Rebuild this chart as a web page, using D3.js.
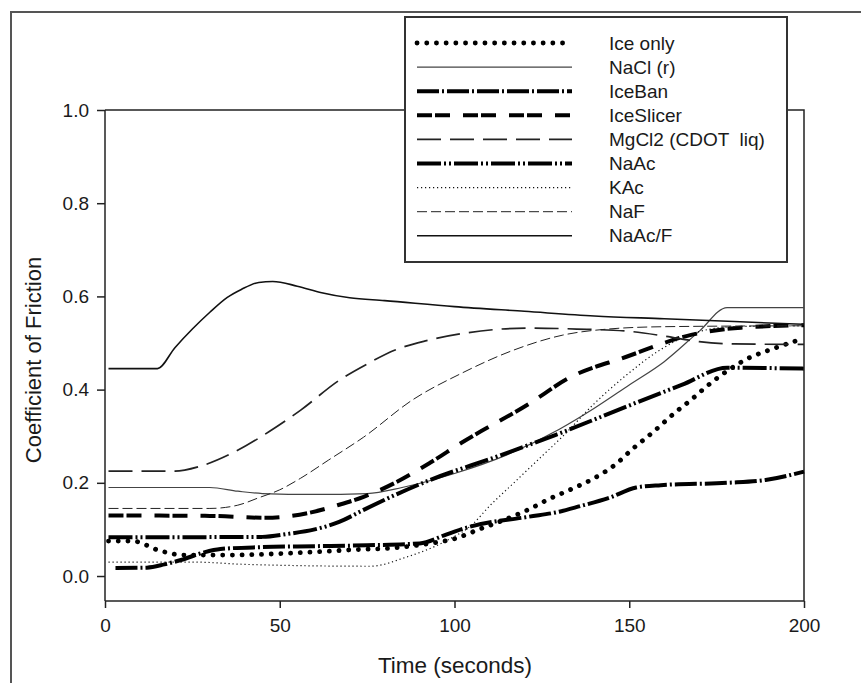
<!DOCTYPE html>
<html><head><meta charset="utf-8">
<script src="https://cdn.jsdelivr.net/npm/d3@7"></script>
<style>body{margin:0;background:#fff;} text{font-family:"Liberation Sans",Arial,sans-serif;fill:#1a1a1a;white-space:pre;}</style>
</head><body>
<svg id="chart" width="861" height="683"></svg>
<script>
// ---- data: [time (s), coefficient of friction] ----
const seriesNames = ["Ice only","NaCl (r)","IceBan","IceSlicer","MgCl2 (CDOT  liq)","NaAc","KAc","NaF","NaAc/F"];
const iceOnly = [[1,0.075],[8,0.075],[12,0.066],[15,0.056],[18,0.05],[22,0.045],[35,0.045],[50,0.048],[70,0.056],[85,0.062],[93,0.07],[100,0.08],[107,0.1],[114,0.12],[121,0.142],[127,0.165],[133,0.185],[140,0.21],[146,0.239],[151,0.273],[157,0.31],[163,0.35],[168,0.38],[172,0.406],[178,0.44],[184,0.467],[192,0.49],[200,0.51]];
const naclR = [[1,0.19],[30,0.19],[38,0.182],[45,0.177],[60,0.175],[75,0.177],[85,0.19],[100,0.22],[115,0.26],[130,0.315],[140,0.36],[150,0.41],[160,0.46],[170,0.525],[178,0.576],[200,0.576]];
const iceBan = [[3,0.017],[12,0.018],[17,0.025],[22,0.035],[28,0.05],[33,0.058],[45,0.062],[60,0.064],[75,0.066],[90,0.07],[98,0.09],[104,0.105],[121,0.127],[130,0.138],[136,0.15],[144,0.167],[152,0.19],[159,0.195],[178,0.2],[189,0.206],[200,0.224]];
const iceSlicer = [[1,0.13],[30,0.129],[46,0.125],[58,0.135],[67,0.153],[74,0.17],[83,0.2],[93,0.243],[102,0.286],[121,0.368],[133,0.426],[149,0.47],[168,0.518],[182,0.533],[200,0.538]];
const mgcl2 = [[1,0.225],[20,0.225],[27,0.235],[37,0.266],[47,0.31],[56,0.356],[67,0.42],[75,0.455],[83,0.485],[92,0.505],[102,0.52],[121,0.532],[135,0.53],[150,0.525],[160,0.515],[170,0.503],[180,0.498],[200,0.497]];
const naAc = [[1,0.083],[45,0.084],[52,0.09],[60,0.1],[67,0.116],[74,0.142],[83,0.174],[93,0.206],[112,0.256],[129,0.303],[149,0.363],[165,0.41],[178,0.447],[200,0.445]];
const kAc = [[1,0.03],[25,0.03],[40,0.025],[76,0.021],[86,0.04],[98,0.077],[105,0.11],[110,0.15],[117,0.2],[124,0.25],[131,0.3],[140,0.37],[149,0.43],[159,0.486],[168,0.52],[180,0.535],[200,0.537]];
const naF = [[1,0.145],[30,0.145],[38,0.152],[44,0.168],[50,0.185],[56,0.21],[64,0.249],[74,0.298],[88,0.378],[102,0.435],[117,0.485],[131,0.517],[144,0.53],[160,0.535],[200,0.537]];
const naAcF = [[1,0.445],[15,0.445],[20,0.49],[25,0.53],[30,0.566],[35,0.598],[39,0.615],[44,0.63],[48,0.632],[55,0.622],[62,0.608],[70,0.597],[80,0.591],[100,0.578],[120,0.568],[140,0.558],[160,0.552],[180,0.546],[200,0.54]];
const xTicks = [0,50,100,150,200];
const yTicks = [0.0,0.2,0.4,0.6,0.8,1.0];

const seriesData = [iceOnly, naclR, iceBan, iceSlicer, mgcl2, naAc, kAc, naF, naAcF];
const styles = [
  {stroke:"#000", w:4.8, dash:"0.1,9.6", cap:"round"},
  {stroke:"#444", w:1.2, dash:null},
  {stroke:"#000", w:4, dash:"22,3,2,3"},
  {stroke:"#000", w:4, dash:"15,3,15,13"},
  {stroke:"#222", w:1.7, dash:"24,9"},
  {stroke:"#000", w:4, dash:"24,3,2,3,2,3"},
  {stroke:"#111", w:1.2, dash:"1.2,2.8"},
  {stroke:"#222", w:1.0, dash:"10,4"},
  {stroke:"#111", w:1.6, dash:null}
];

const svg = d3.select("#chart");
// outer figure border
svg.append("rect").attr("x",11).attr("y",12).attr("width",900).attr("height",800)
  .attr("fill","none").attr("stroke","#555").attr("stroke-width",2);

const L=105, R=804, T=110, B=601;
const x = d3.scaleLinear().domain([0,200]).range([L,R]);
const y = d3.scaleLinear().domain([-0.0536,1.0]).range([B,T]);

// frame top/right
svg.append("path").attr("d",`M${L},${T}H${R}V${B}`).attr("fill","none").attr("stroke","#222").attr("stroke-width",1.5);

const xa = svg.append("g").attr("transform",`translate(0,${B})`)
  .call(d3.axisBottom(x).tickValues(xTicks).tickSize(7).tickPadding(11).tickFormat(d3.format("d")));
const ya = svg.append("g").attr("transform",`translate(${L},0)`)
  .call(d3.axisLeft(y).tickValues(yTicks).tickSize(8).tickPadding(8).tickFormat(d3.format(".1f")));
[xa,ya].forEach(a=>{
  a.select(".domain").attr("stroke","#222").attr("stroke-width",1.5);
  a.selectAll(".tick line").attr("stroke","#222").attr("stroke-width",1.5);
  a.selectAll("text").attr("font-size",19).attr("font-family","Liberation Sans, Arial, sans-serif").attr("fill","#1a1a1a");
});
ya.select(".domain").attr("d",`M0,${B}V${T}`);
xa.select(".domain").attr("d",`M${L},0H${R}`);

// axis titles
svg.append("text").attr("x",455).attr("y",673).attr("text-anchor","middle").attr("font-size",22.5).text("Time (seconds)");
svg.append("text").attr("transform","translate(41,360) rotate(-90)").attr("text-anchor","middle").attr("font-size",22).text("Coefficient of Friction");

// lines
const line = d3.line().x(d=>x(d[0])).y(d=>y(d[1])).curve(d3.curveMonotoneX);
const gl = svg.append("g");
seriesData.forEach((s,i)=>{
  const st = styles[i];
  gl.append("path").datum(s).attr("d",line).attr("fill","none")
    .attr("stroke",st.stroke).attr("stroke-width",st.w)
    .attr("stroke-dasharray",st.dash).attr("stroke-linecap",st.cap||"butt");
});

// legend
const lg = svg.append("g");
lg.append("rect").attr("x",405).attr("y",17).attr("width",382).attr("height",245)
  .attr("fill","#fff").attr("stroke","#333").attr("stroke-width",2);
seriesNames.forEach((n,i)=>{
  const yy = 43 + i*24.1;
  const st = styles[i];
  lg.append("line").attr("x1",417).attr("x2",572).attr("y1",yy).attr("y2",yy)
    .attr("stroke",st.stroke).attr("stroke-width",st.w)
    .attr("stroke-dasharray",st.dash).attr("stroke-linecap",st.cap||"butt");
  lg.append("text").attr("x",609).attr("y",yy).attr("dy","0.35em").attr("font-size",19).text(n);
});
</script>
</body></html>
